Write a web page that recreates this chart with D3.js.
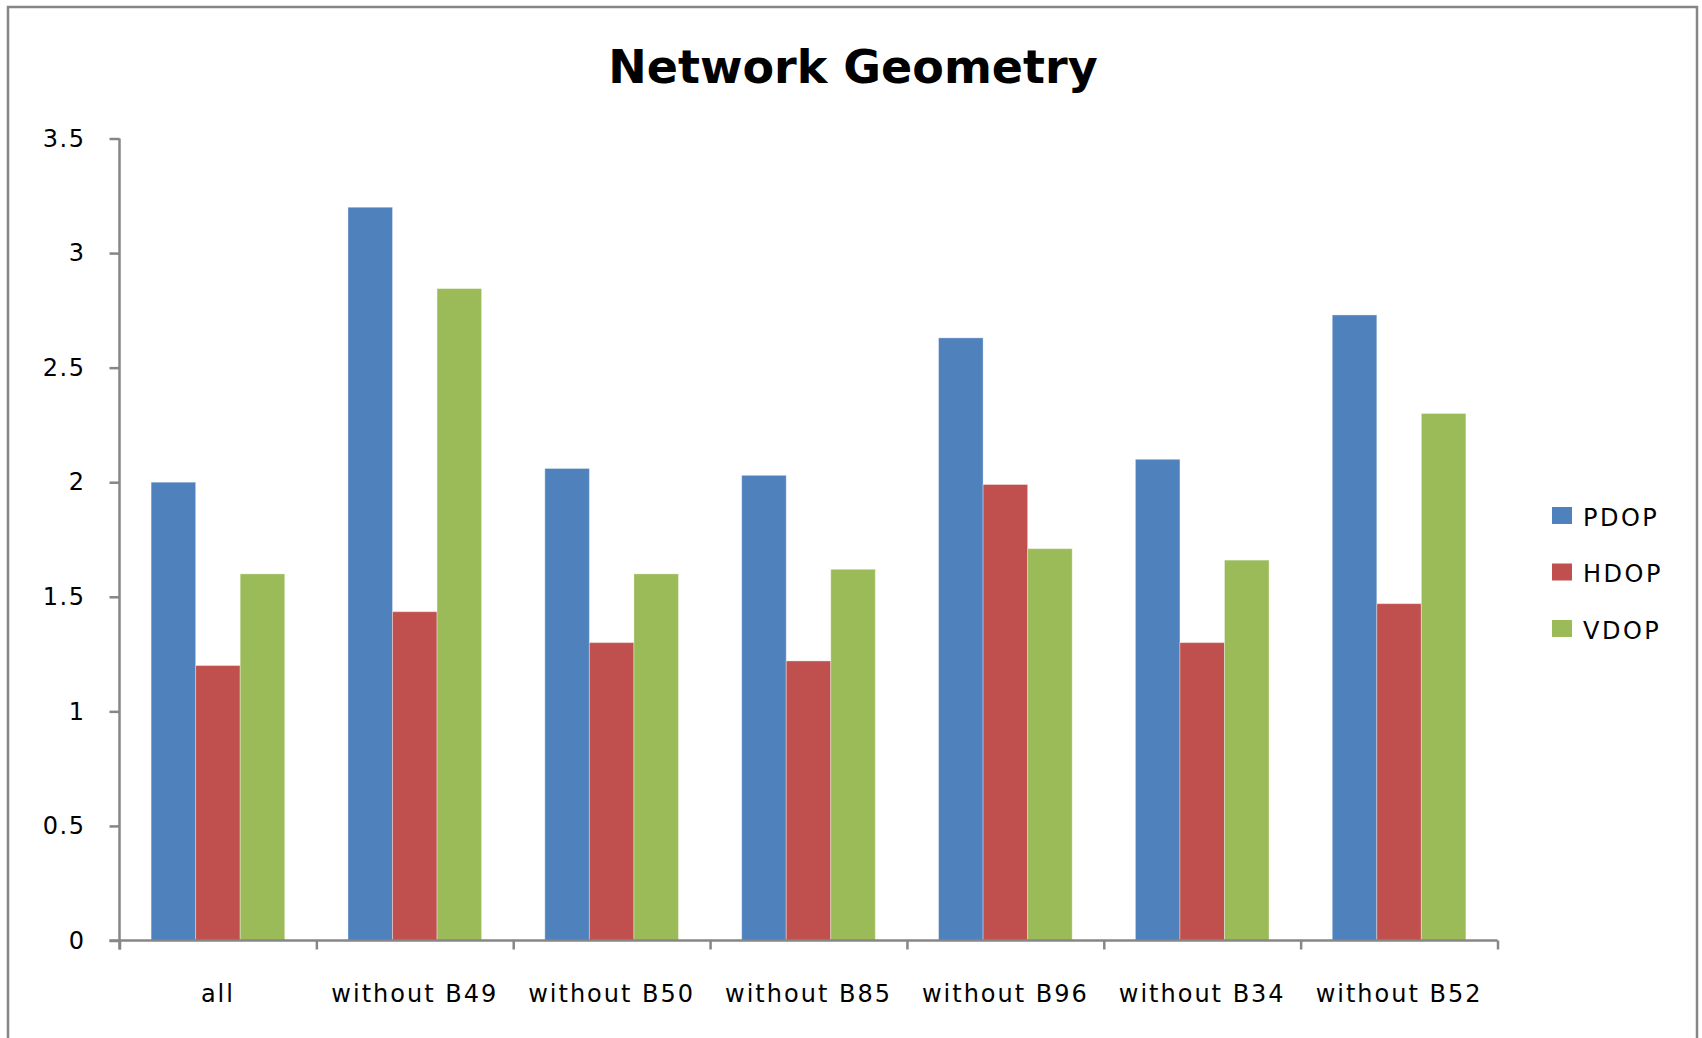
<!DOCTYPE html>
<html>
<head>
<meta charset="utf-8">
<title>Network Geometry</title>
<script src="https://cdn.jsdelivr.net/npm/d3@7"></script>
<style>
  html, body { margin: 0; padding: 0; background: #ffffff; }
  svg { display: block; }
  text { font-family: "DejaVu Sans", sans-serif; fill: #000; }
</style>
</head>
<body>
<svg id="chart" width="1702" height="1038"></svg>
<script>
// Categories (station configurations) and dilution-of-precision values
const categories = ["all", "without B49", "without B50", "without B85", "without B96", "without B34", "without B52"];
const seriesNames = ["PDOP", "HDOP", "VDOP"];
const pdop = [2.00, 3.20, 2.06, 2.03, 2.63, 2.10, 2.73];
const hdop = [1.20, 1.435, 1.30, 1.22, 1.99, 1.30, 1.47];
const vdop = [1.60, 2.845, 1.60, 1.62, 1.71, 1.66, 2.30];
const yTicks = [0, 0.5, 1, 1.5, 2, 2.5, 3, 3.5];
const yTickLabels = ["0", "0.5", "1", "1.5", "2", "2.5", "3", "3.5"];
const colors = ["#4F81BD", "#C0504D", "#9BBB59"];

const seriesValues = [pdop, hdop, vdop];
const table = categories.map((c, i) => ({
  category: c,
  values: seriesNames.map((s, k) => ({ series: s, value: seriesValues[k][i] }))
}));

const svg = d3.select("#chart");
const axisColor = "#868686";

// Outer chart frame
svg.append("rect")
  .attr("x", 8).attr("y", 7)
  .attr("width", 1689).attr("height", 1040)
  .attr("fill", "#fff")
  .attr("stroke", axisColor).attr("stroke-width", 2.5);

// Plot area geometry
const plot = { left: 119.5, right: 1497.5, top: 138.5, bottom: 940.5 };

const x = d3.scaleBand()
  .domain(categories)
  .range([plot.left, plot.right])
  .paddingInner(0).paddingOuter(0);

const xs = d3.scaleBand()
  .domain(seriesNames)
  .range([0, x.bandwidth()])
  .paddingInner(0).paddingOuter(0.71);

const y = d3.scaleLinear()
  .domain([0, 3.5])
  .range([plot.bottom, plot.top]);

const color = d3.scaleOrdinal().domain(seriesNames).range(colors);

// Title
svg.append("text")
  .attr("x", 853).attr("y", 83)
  .attr("text-anchor", "middle")
  .style("font-size", "46px")
  .style("font-weight", "bold")
  .text("Network Geometry");

// Bars
const groups = svg.append("g").selectAll("g")
  .data(table)
  .join("g")
  .attr("transform", d => `translate(${x(d.category)},0)`);

groups.selectAll("rect")
  .data(d => d.values)
  .join("rect")
  .attr("x", d => xs(d.series))
  .attr("y", d => y(d.value))
  .attr("width", xs.bandwidth())
  .attr("height", d => y(0) - y(d.value))
  .attr("fill", d => color(d.series))
  .attr("stroke", "rgba(255,255,255,0.35)")
  .attr("stroke-width", 1);

// Y axis
const yAxis = svg.append("g")
  .attr("transform", `translate(${plot.left},0)`)
  .call(d3.axisLeft(y)
    .tickValues(yTicks)
    .tickFormat((d, i) => yTickLabels[i])
    .tickSize(10)
    .tickSizeOuter(0)
    .tickPadding(24));
yAxis.select(".domain").attr("stroke", axisColor).attr("stroke-width", 2.5)
  .attr("d", `M0,${plot.top}V${plot.bottom + 9}`);
yAxis.selectAll(".tick line").attr("stroke", axisColor).attr("stroke-width", 2.5);
yAxis.selectAll(".tick text")
  .style("font-size", "24px")
  .style("letter-spacing", "1.5px")
  .attr("fill", "#000");

// X axis: tick marks sit on category boundaries
const xEdge = d3.scaleLinear().domain([0, categories.length]).range([plot.left, plot.right]);
const xAxis = svg.append("g")
  .attr("transform", `translate(0,${plot.bottom})`)
  .call(d3.axisBottom(xEdge)
    .tickValues(d3.range(categories.length + 1))
    .tickFormat("")
    .tickSize(9)
    .tickSizeOuter(0));
xAxis.select(".domain").attr("stroke", axisColor).attr("stroke-width", 2.5)
  .attr("d", `M${plot.left - 10},0H${plot.right}`);
xAxis.selectAll(".tick line").attr("stroke", axisColor).attr("stroke-width", 2.5);

// Category labels
svg.append("g").selectAll("text")
  .data(categories)
  .join("text")
  .attr("x", d => x(d) + x.bandwidth() / 2)
  .attr("y", 1002)
  .attr("text-anchor", "middle")
  .style("font-size", "24px")
  .style("letter-spacing", "2px")
  .text(d => d);

// Legend
const legend = svg.append("g").selectAll("g")
  .data(seriesNames)
  .join("g")
  .attr("transform", (d, i) => `translate(1552,${507 + i * 56.5})`);
legend.append("rect")
  .attr("width", 20).attr("height", 17)
  .attr("fill", d => color(d));
legend.append("text")
  .attr("x", 31).attr("y", 18.5)
  .style("font-size", "24px")
  .style("letter-spacing", "2.5px")
  .text(d => d);
</script>
</body>
</html>
